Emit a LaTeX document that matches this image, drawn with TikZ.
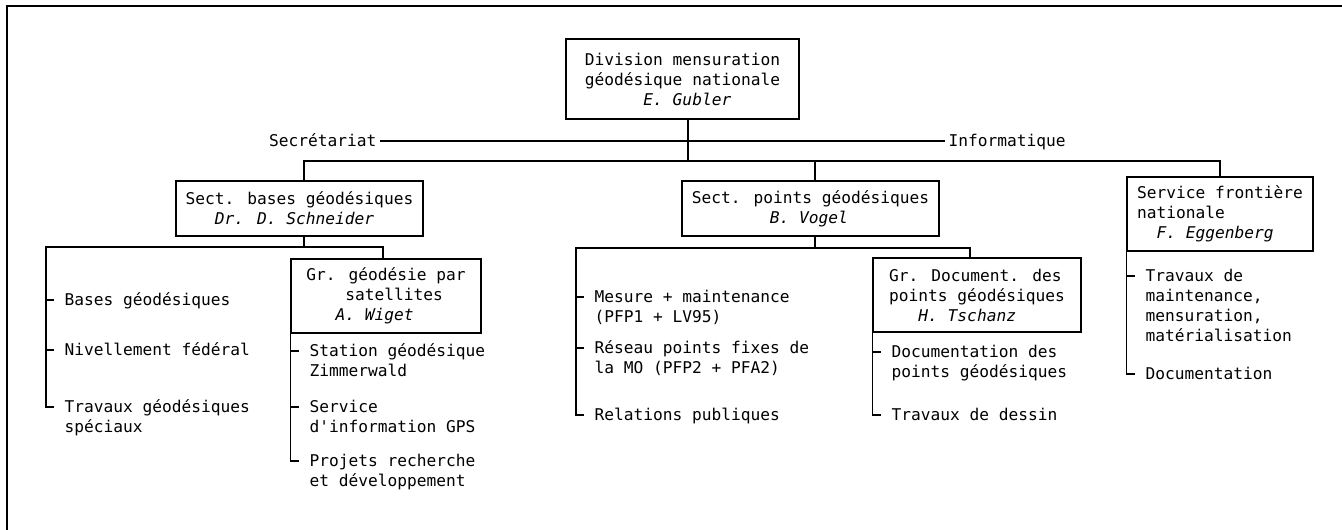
\documentclass[tikz,border=0pt]{standalone}
\usepackage{fontspec}
\setmainfont{DejaVu Sans Mono}
\usepackage{tikz}
\newcommand{\ind}[1]{\hspace*{\dimexpr 0.602em*#1\relax}}
\newcommand{\itemlines}[1]{\begin{tabular}[t]{@{}l@{}}#1\end{tabular}}

\begin{document}
\begin{tikzpicture}[x=1pt,y=-1pt,line width=1.2pt,font=\fontsize{16.2}{20}\selectfont,
    box/.style={draw, align=left, inner sep=0pt},
    item/.style={anchor=base west, inner sep=0pt},
    lbl/.style={text height=11pt, text depth=0pt, inner xsep=3pt, inner ysep=0pt}]
    \useasboundingbox (0,0) rectangle (1342,530);
    \draw[line width=1.6pt] (1342,6) -- (7,6) -- (7,530);

    \node[box, minimum width=233, minimum height=80] (div) at (682.5,79) {Division mensuration\\géodésique nationale\\\ind{6}\textit{E. Gubler}};
    \node[lbl, anchor=east] (sec) at (380,141) {Secrétariat};
    \node[lbl, anchor=west] (inf) at (945,141) {Informatique};
    \node[box, minimum width=247, minimum height=55] (sb) at (299.5,208.5) {Sect. bases géodésiques\\\ind{3}\textit{Dr. D. Schneider}};
    \node[box, minimum width=257, minimum height=55] (sp) at (810.5,208.5) {Sect. points géodésiques\\\ind{8}\textit{B. Vogel}};
    \node[box, minimum width=186, minimum height=74] (sf) at (1220,214) {Service frontière\\nationale\\\ind{2}\textit{F. Eggenberg}};
    \node[box, minimum width=190, minimum height=74] (gs) at (386,296) {Gr. géodésie par\\\ind{4}satellites\\\ind{3}\textit{A. Wiget}};
    \node[box, minimum width=208, minimum height=74] (gd) at (977,295) {Gr. Document. des\\points géodésiques\\\ind{3}\textit{H. Tschanz}};

    \node[item] (b1) at (64,305) {Bases géodésiques};
    \node[item] (b2) at (64,355) {Nivellement fédéral};
    \node[item] (b3) at (64,412) {\itemlines{Travaux géodésiques\\spéciaux}};
    \node[item] (g1) at (309,356) {\itemlines{Station géodésique\\Zimmerwald}};
    \node[item] (g2) at (309,412) {\itemlines{Service\\d\textquotesingle information GPS}};
    \node[item] (g3) at (309,466) {\itemlines{Projets recherche\\et développement}};
    \node[item] (m1) at (594,302) {\itemlines{Mesure + maintenance\\(PFP1 + LV95)}};
    \node[item] (m2) at (594,353) {\itemlines{Réseau points fixes de\\la MO (PFP2 + PFA2)}};
    \node[item] (m3) at (594,420) {Relations publiques};
    \node[item] (d1) at (891,357) {\itemlines{Documentation des\\points géodésiques}};
    \node[item] (d2) at (891,420) {Travaux de dessin};
    \node[item] (f1) at (1145,281) {\itemlines{Travaux de\\maintenance,\\mensuration,\\matérialisation}};
    \node[item] (f2) at (1145,379) {Documentation};

    \coordinate (bus) at (688,161);
    \coordinate (sbin) at (304,161);
    \coordinate (spin) at (815,161);
    \coordinate (sfin) at (1220,161);
    \coordinate (sbout) at (304,247);
    \coordinate (gsin) at (383,247);
    \coordinate (spout) at (815,248);
    \coordinate (gdin) at (970,248);

    \draw (sec) -- (inf);
    \draw (div.south -| bus) -- (bus);
    \draw (sbin |- sb.north) -- (sbin) -- (sfin) -- (sfin |- sf.north);
    \draw (spin) -- (spin |- sp.north);

    \draw (sb.south -| sbout) -- (sbout);
    \draw ([xshift=-10,yshift=5]b3.base west) -| ([xshift=-18]b3.west |- sbout) -- (gsin) -- (gsin |- gs.north);
    \draw ([xshift=-18,yshift=5]b1.base west) -- ++(8,0);
    \draw ([xshift=-18,yshift=5]b2.base west) -- ++(8,0);
    \draw (gs.south west) |- ([xshift=-10,yshift=5]g3.base west);
    \draw ([xshift=-18,yshift=5]g1.base west) -- ++(8,0);
    \draw ([xshift=-18,yshift=5]g2.base west) -- ++(8,0);

    \draw (sp.south -| spout) -- (spout);
    \draw ([xshift=-10,yshift=5]m3.base west) -| ([xshift=-18]m3.west |- spout) -- (gdin) -- (gdin |- gd.north);
    \draw ([xshift=-18,yshift=5]m1.base west) -- ++(8,0);
    \draw ([xshift=-18,yshift=5]m2.base west) -- ++(8,0);
    \draw (gd.south west) |- ([xshift=-10,yshift=5]d2.base west);
    \draw ([xshift=-18,yshift=5]d1.base west) -- ++(8,0);

    \draw (sf.south west) |- ([xshift=-10,yshift=5]f2.base west);
    \draw ([xshift=-18,yshift=5]f1.base west) -- ++(8,0);
\end{tikzpicture}
\end{document}
